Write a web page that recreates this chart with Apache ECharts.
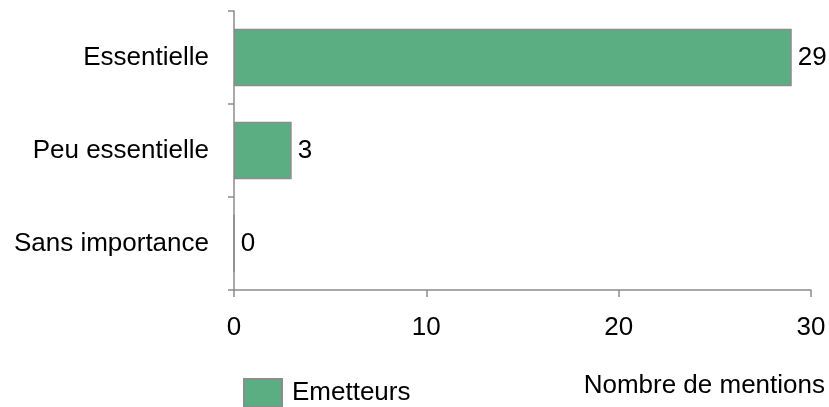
<!DOCTYPE html>
<html>
<head>
<meta charset="utf-8">
<script src="https://cdn.jsdelivr.net/npm/echarts@6/dist/echarts.min.js"></script>
<style>
  html, body { margin: 0; padding: 0; background: #fff; }
  #chart { width: 829px; height: 407px; }
</style>
</head>
<body>
<div id="chart"></div>
<script>
// data
const categories = ['Essentielle', 'Peu essentielle', 'Sans importance'];
const emetteurs = [29, 3, 0];
const seriesName = 'Emetteurs';
const axisTitle = 'Nombre de mentions';

const FONT = '"Liberation Sans", Arial, sans-serif';
const FS = 26;
const AXIS_GREY = '#8c8c8c';

let myChart = echarts.init(document.getElementById('chart'));
let option = {
  animation: false,
  textStyle: { fontFamily: FONT },
  grid: { left: 234, right: 18, top: 11, bottom: 117 },
  legend: {
    data: [{ name: seriesName, icon: 'rect' }],
    left: 243,
    top: 378,
    padding: 0,
    itemWidth: 38,
    itemHeight: 28,
    textStyle: { fontFamily: FONT, fontSize: FS, color: '#000', padding: [4, 0, 0, 5] }
  },
  title: {
    text: axisTitle,
    right: 4,
    top: 373,
    padding: 0,
    textStyle: { fontFamily: FONT, fontSize: FS, fontWeight: 'normal', color: '#000' }
  },
  xAxis: {
    type: 'value',
    min: 0,
    max: 30,
    interval: 10,
    splitLine: { show: false },
    axisLine: { show: true, lineStyle: { color: AXIS_GREY, width: 1.5 } },
    axisTick: { show: true, length: 7, lineStyle: { color: AXIS_GREY, width: 1.5 } },
    axisLabel: { margin: 25, fontFamily: FONT, fontSize: FS, color: '#000' }
  },
  yAxis: {
    type: 'category',
    inverse: true,
    data: categories,
    axisLine: { show: true, lineStyle: { color: AXIS_GREY, width: 1.5 } },
    axisTick: { show: true, length: 6, lineStyle: { color: AXIS_GREY, width: 1.5 } },
    axisLabel: { margin: 25, fontFamily: FONT, fontSize: FS, color: '#000' }
  },
  series: [
    {
      name: seriesName,
      type: 'bar',
      data: emetteurs,
      barWidth: '62%',
      itemStyle: { color: '#5bae82', borderColor: '#8c8c8c', borderWidth: 1.5 },
      label: {
        show: true,
        position: 'right',
        distance: 6,
        fontFamily: FONT,
        fontSize: FS,
        color: '#000'
      }
    }
  ]
};
myChart.setOption(option);
window.onresize = myChart.resize;
</script>
</body>
</html>
